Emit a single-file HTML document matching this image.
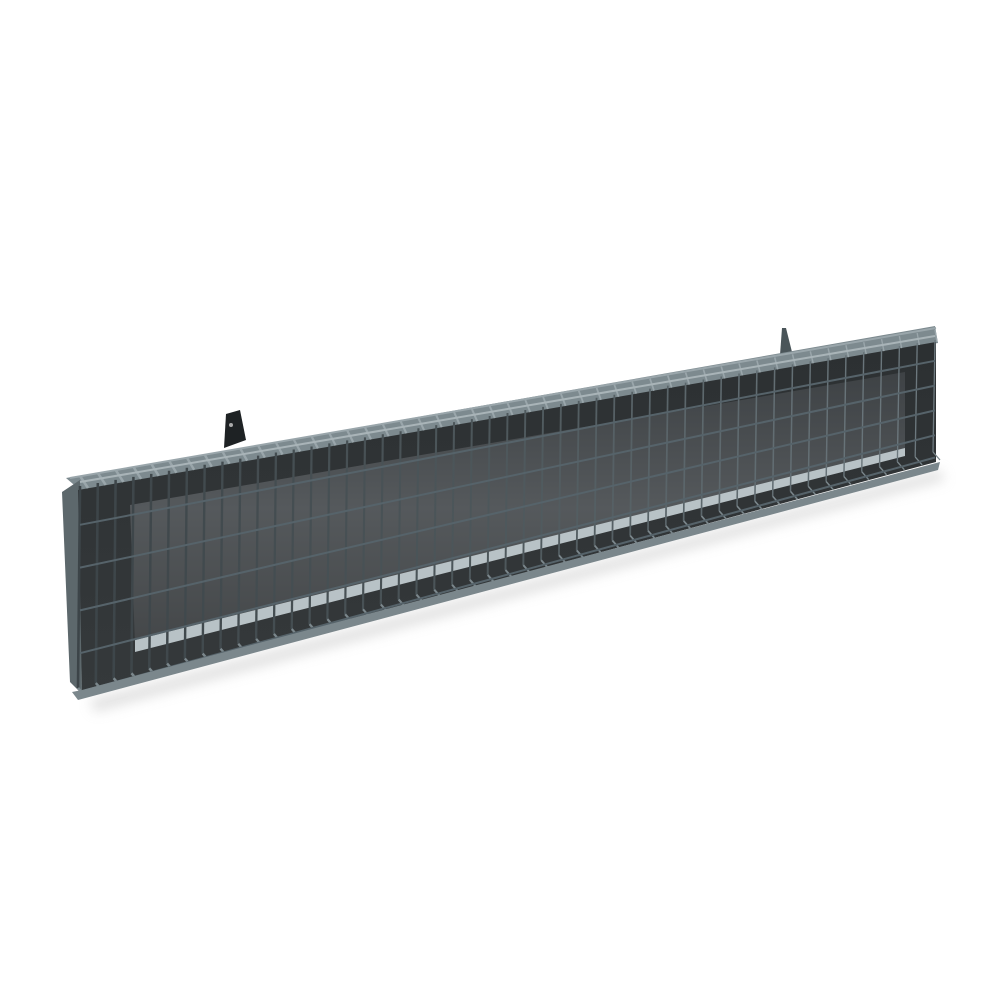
<!DOCTYPE html>
<html><head><meta charset="utf-8"><style>html,body{margin:0;padding:0;background:#fff}svg{display:block}</style></head>
<body>
<svg id="s" width="1000" height="1000" viewBox="0 0 1000 1000" xmlns="http://www.w3.org/2000/svg">
<defs>
<linearGradient id="face" x1="0" y1="0" x2="0" y2="1">
<stop offset="0" stop-color="#2c3032"/><stop offset="1" stop-color="#35393b"/></linearGradient>
<linearGradient id="mesh" x1="0" y1="0" x2="0" y2="1">
<stop offset="0" stop-color="#3e4245"/><stop offset="0.5" stop-color="#55595c"/><stop offset="1" stop-color="#444749"/></linearGradient>
<linearGradient id="wire" gradientUnits="userSpaceOnUse" x1="80" y1="0" x2="936" y2="0">
<stop offset="0" stop-color="#3c4448"/><stop offset="0.5" stop-color="#4e585c"/><stop offset="1" stop-color="#6e7a80"/></linearGradient>
<filter id="blur"><feGaussianBlur stdDeviation="6"/></filter>
</defs>
<polygon points="90,700 940,470 945,480 95,712" fill="#ccc" filter="url(#blur)" opacity="0.6"/>
<path d="M224,448 L226,414 L240,410 L246,440 Z" fill="#1e2224"/>
<circle cx="231" cy="425" r="2" fill="#aaa"/>
<path d="M780,355 L782,328 L786,328 L792,352 Z" fill="#4a5559"/>
<polygon points="66,478 230,450 935,326 938,343 80,490" fill="#7d8a8f"/>
<polygon points="62,492 80,480 82,694 70,682" fill="#5d686c"/>
<polygon points="78,490 936,342 936,462 82,692" fill="url(#face)"/>
<polygon points="130,505 905,372 905,450 135,645" fill="url(#mesh)"/>
<polygon points="135,640 905,448 905,456 135,652" fill="#b8c2c6"/>
<g id="g" stroke="url(#wire)" fill="none"></g>
<polygon points="72,692 82,690 940,462 938,470 78,700" fill="#7b878c"/>
</svg>
<script>
var g=document.getElementById('g'),ns='http://www.w3.org/2000/svg';
function L(a,b,c,d,w,col){var l=document.createElementNS(ns,'line');l.setAttribute('x1',a);l.setAttribute('y1',b);l.setAttribute('x2',c);l.setAttribute('y2',d);l.setAttribute('stroke-width',w);if(col)l.setAttribute('stroke',col);g.appendChild(l);}
function T(t){return [80+855*t,482-146*t];}
function B(t){return [80+855*t,696-236*t];}
var n=48;
for(var i=0;i<=n;i++){var t=i/n;var a=T(t),b=B(t);var w=2.6-1.3*t;
L(a[0],a[1]-6,a[0]+8-6*t,a[1]+6,w,'#9aa6ab');L(a[0],a[1]+4,b[0]-2,b[1]-8,w);L(b[0]-2,b[1]-8,b[0]+5,b[1],w,'#7b878c');}
var fr=[0.0,0.2,0.4,0.6,0.8,0.98];
for(var j=0;j<fr.length;j++){var f=fr[j];var a=T(0),b=B(0),c=T(1),d=B(1);
L(a[0],a[1]+(b[1]-a[1])*f,c[0],c[1]+(d[1]-c[1])*f,2,j==0?'#a9b4b8':'#56636a');}
L(70,478,936,328,2,'#9aa6ab');
</script>
</body></html>
